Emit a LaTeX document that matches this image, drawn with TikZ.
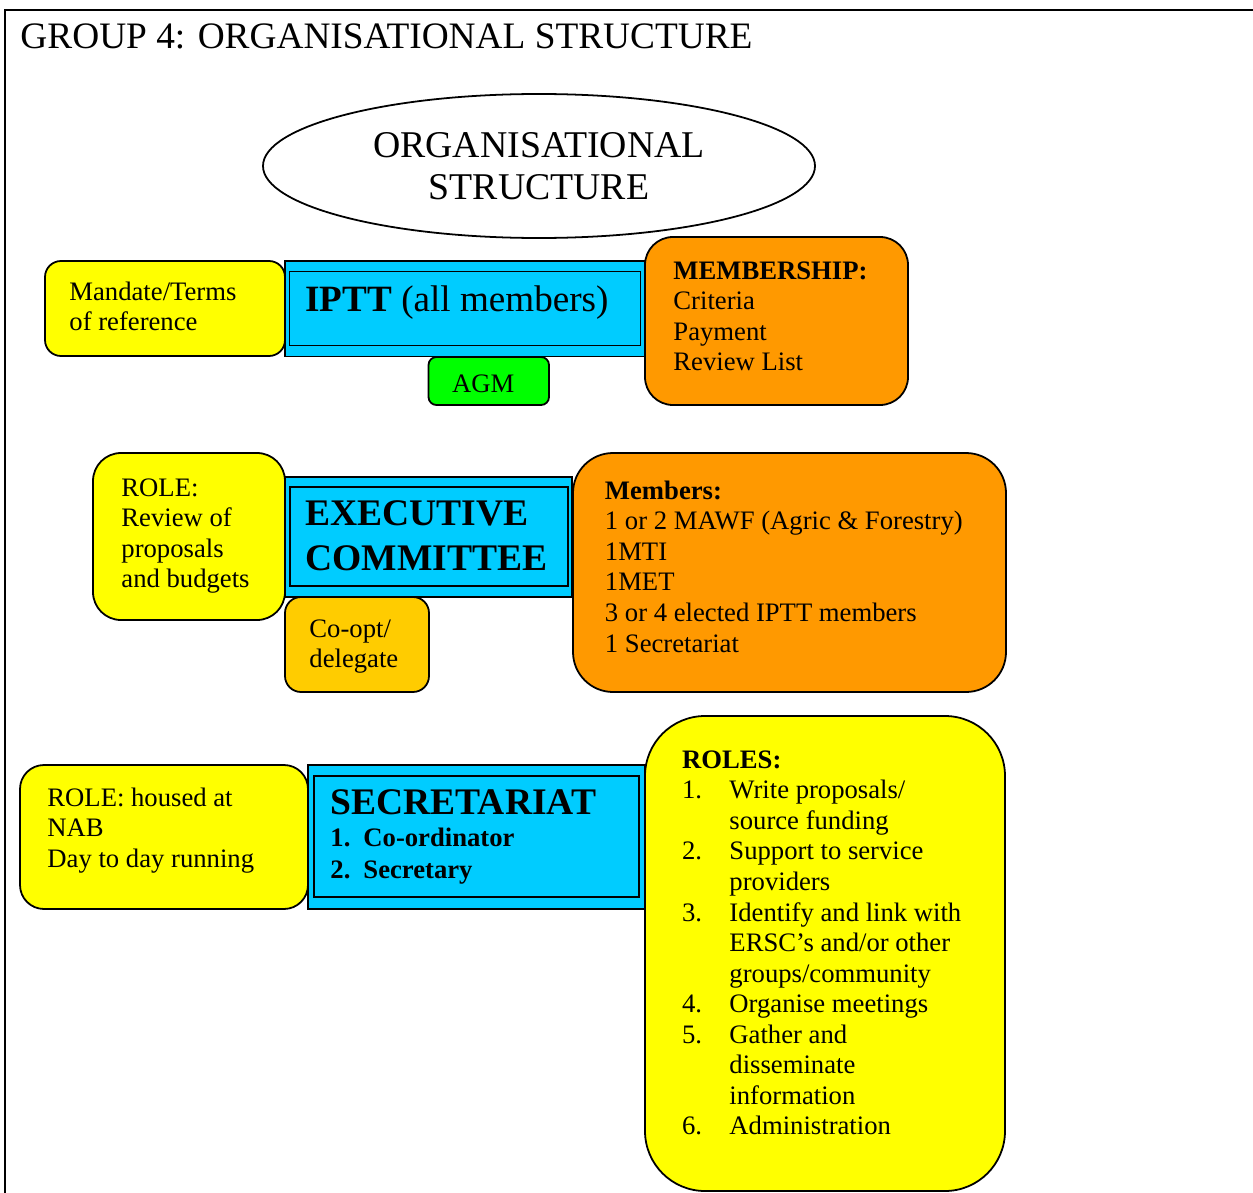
\documentclass[tikz,border=0pt]{standalone}
\usepackage{fontspec}
\setmainfont{Liberation Serif}
\usetikzlibrary{shapes.geometric}
\definecolor{boxyellow}{HTML}{FFFF00}
\definecolor{boxgold}{HTML}{FFCC00}
\definecolor{boxorange}{HTML}{FF9900}
\definecolor{boxblue}{HTML}{00CCFF}
\definecolor{boxgreen}{HTML}{00FF00}
\newcommand{\stack}[1]{\begin{tabular}[t]{@{}l@{}}#1\end{tabular}}
\tikzset{
  card/.style={draw=black, line width=0.8pt},
  txt/.style={anchor=base west, inner sep=0pt, font=\fontsize{12}{13.75}\selectfont},
  bigtxt/.style={anchor=base west, inner sep=0pt, font=\fontsize{16.9}{20.25}\selectfont\bfseries},
}

\begin{document}
\begin{tikzpicture}[x=0.45pt, y=-0.45pt]
  \useasboundingbox (0,0) rectangle (1253,1193);
  %%%%% FRAME %%%%%
  \draw[line width=1.2pt] (5,1193) -- (5,10) -- (1253,10);
  \node[anchor=base west, inner sep=0pt, font=\fontsize{16.8}{20}\selectfont] (title) at (20,48.3) {GROUP 4: ORGANISATIONAL STRUCTURE};
  \node[draw, ellipse, line width=0.8pt, minimum width=248.4pt, minimum height=64.8pt, align=center,
        font=\fontsize{17}{18.9}\selectfont] (orgstruct) at (539,166) {ORGANISATIONAL\\STRUCTURE};

  %%%%% IPTT %%%%%
  \draw[card, fill=boxyellow, rounded corners=7.2pt] (45,261) rectangle (285,356);
  \draw[card, fill=boxblue] (285,261) rectangle (645,356.5);
  \draw[card, fill=boxblue] (289.5,271.5) rectangle (640.5,345.5);
  \draw[card, fill=boxgreen, rounded corners=3.6pt] (428.5,357) rectangle (549,405);
  \draw[card, fill=boxorange, rounded corners=12.6pt] (645,237) rectangle (908,405);

  \node[txt] (mandate) at (69,300) {\stack{Mandate/Terms\\of reference}};
  \node[txt, font=\fontsize{16.7}{20}\selectfont] (iptt) at (305,311.7) {\textbf{IPTT} (all members)};
  \node[txt] (agm) at (451.7,392.7) {AGM};
  \node[txt] (membership) at (673,279) {\stack{\textbf{MEMBERSHIP:}\\Criteria\\Payment\\Review List}};

  %%%%% EXECUTIVE %%%%%
  \draw[card, fill=boxyellow, rounded corners=12.6pt] (93,453) rectangle (285,620);
  \draw[card, fill=boxblue] (285,476.7) rectangle (571.7,596.7);
  \draw[card, fill=boxblue] (290,487.3) rectangle (567.7,586);
  \draw[card, fill=boxgold, rounded corners=7.2pt] (285,597) rectangle (429,692);
  \draw[card, fill=boxorange, rounded corners=18pt] (573,453) rectangle (1006,692);

  \node[txt] (review) at (121,496) {\stack{ROLE:\\Review of\\proposals\\and budgets}};
  \node[bigtxt] (exec) at (305,525) {\stack{EXECUTIVE\\COMMITTEE}};
  \node[txt] (coopt) at (309,637) {\stack{Co-opt/\\delegate}};
  \node[txt] (members) at (604.5,499.3) {\stack{\textbf{Members:}\\1 or 2 MAWF (Agric \& Forestry)\\1MTI\\1MET\\3 or 4 elected IPTT members\\1 Secretariat}};

  %%%%% SECRETARIAT %%%%%
  \draw[card, fill=boxyellow, rounded corners=10.8pt] (20,765) rectangle (308,909);
  \draw[card, fill=boxblue] (308.3,765) rectangle (645,909);
  \draw[card, fill=boxblue] (314,775.7) rectangle (639,897.3);
  \draw[card, fill=boxyellow, rounded corners=27pt] (645,716) rectangle (1005,1191);

  \node[txt] (housed) at (47,806) {\stack{ROLE: housed at\\NAB\\Day to day running}};
  \node[bigtxt] (secretariat) at (330,814) {SECRETARIAT};
  \node[txt, font=\fontsize{12}{14.1}\selectfont\bfseries] (secstaff) at (330,846.7)
    {\begin{tabular}[t]{@{}p{14.85pt}@{}l@{}}1. & Co-ordinator\\2. & Secretary\end{tabular}};
  \node[txt] (roles) at (681.7,768.3)
    {\begin{tabular}[t]{@{}p{21.3pt}@{}l@{}}
      \multicolumn{2}{@{}l@{}}{\textbf{ROLES:}}\\
      1. & Write proposals/\\
         & source funding\\
      2. & Support to service\\
         & providers\\
      3. & Identify and link with\\
         & ERSC's and/or other\\
         & groups/community\\
      4. & Organise meetings\\
      5. & Gather and\\
         & disseminate\\
         & information\\
      6. & Administration
    \end{tabular}};
\end{tikzpicture}
\end{document}
